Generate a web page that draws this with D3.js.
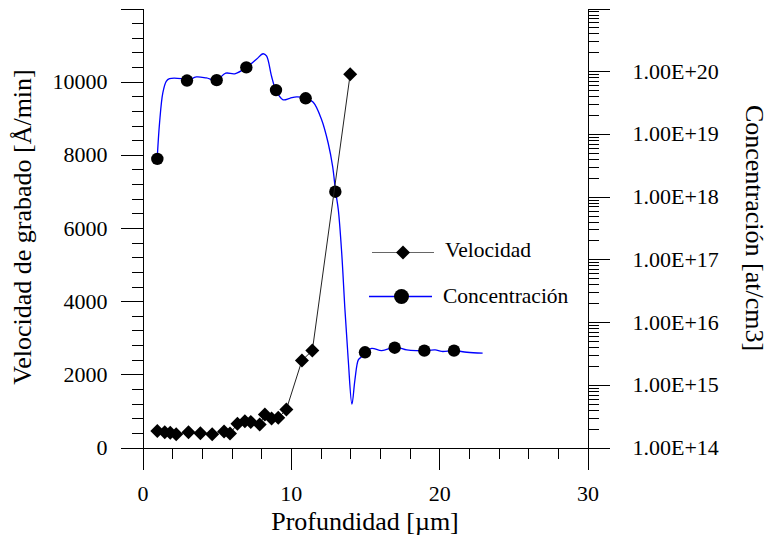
<!DOCTYPE html>
<html>
<head>
<meta charset="utf-8">
<script src="https://cdn.jsdelivr.net/npm/d3@7"></script>
<style>
body { margin: 0; background: #fff; }
text { font-family: "Liberation Serif", "Times New Roman", serif; fill: #000; }
.axis path, .axis line { stroke: #000; stroke-width: 1; shape-rendering: crispEdges; }
.axis text { font-size: 22px; font-family: "Liberation Serif", serif; }
</style>
</head>
<body>
<svg id="chart" width="771" height="539"></svg>
<script>

// velocidad de grabado (diamonds)
var velDepth = [1.0, 1.5, 1.87, 2.27, 3.1, 3.9, 4.7, 5.5, 5.9, 6.4, 6.9, 7.3, 7.9, 8.25, 8.7, 9.15, 9.7, 10.75, 11.45, 14.0];
var velRate  = [450, 420, 400, 360, 420, 390, 360, 440, 380, 650, 720, 700, 630, 900, 790, 810, 1040, 2380, 2650, 10200];

// concentracion, measured points (circles)
var concDepth = [1, 3, 5, 7, 9, 11, 13, 15, 17, 19, 21];
var concValue = [4.0e18, 7.1e19, 7.2e19, 1.15e20, 5.0e19, 3.7e19, 1.2e18, 3.3e15, 3.9e15, 3.5e15, 3.5e15];

// concentracion, profile curve (blue line)
var curveDepth = [0.99, 1.15, 1.37, 1.6, 1.82, 2.61, 3.02, 3.63, 4.3, 4.98, 5.61, 6.22, 7.01, 7.68, 8.13, 8.36,
  8.7, 8.99, 9.48, 9.93, 10.39, 11.01, 11.51, 12.07, 12.52, 12.82, 13.02, 13.2, 13.43, 13.65, 13.87, 14.12,
  14.32, 14.55, 14.73, 15.0, 15.45, 16.13, 17.03, 17.82, 18.49, 19.01, 19.73, 20.18, 21.01, 21.87, 22.93];
var curveValue = [4.0e18, 1.5e19, 4.5e19, 6.9e19, 7.6e19, 7.6e19, 7.1e19, 8.1e19, 7.8e19, 7.2e19, 9.3e19, 9.1e19,
  1.15e20, 1.55e20, 1.9e20, 1.75e20, 8.3e19, 5.0e19, 3.5e19, 3.7e19, 3.9e19, 3.7e19, 3.2e19, 1.7e19, 7.1e18,
  3.0e18, 1.2e18, 6.2e17, 1.26e17, 1.55e16, 2.5e15, 4.9e14, 1.2e15, 2.5e15, 2.75e15, 3.3e15, 3.8e15, 3.5e15,
  4.0e15, 3.6e15, 3.5e15, 3.5e15, 3.6e15, 3.4e15, 3.5e15, 3.3e15, 3.2e15];

var xTicks = [0, 10, 20, 30];
var rateTicks = [0, 2000, 4000, 6000, 8000, 10000, 12000];
var concTicks = [1e14, 1e15, 1e16, 1e17, 1e18, 1e19, 1e20, 1e21];
var legendLabels = ["Velocidad", "Concentración"];

var svg = d3.select("#chart");

var x = d3.scaleLinear().domain([0, 30]).range([142.5, 587.5]);
var yRate = d3.scaleLinear().domain([0, 12000]).range([447.5, 8.5]);
var yConc = d3.scaleLog().domain([1e14, 1e21]).range([447.5, 8.5]);

// minor ticks
var minorX = d3.range(0, 31, 2).filter(function(d) { return d % 10 != 0; });
var minorRate = d3.range(0, 12001, 400).filter(function(d) { return d % 2000 != 0; });
var minorConc = [];
for (var e = 14; e < 21; e++) {
	for (var m = 2; m < 10; m++) minorConc.push(m * Math.pow(10, e));
}

svg.append("g").attr("class", "axis")
	.attr("transform", "translate(0,447.5)")
	.call(d3.axisBottom(x).tickValues(minorX).tickSize(11).tickSizeOuter(0).tickFormat(""));
svg.append("g").attr("class", "axis")
	.attr("transform", "translate(142.5,0)")
	.call(d3.axisLeft(yRate).tickValues(minorRate).tickSize(11).tickSizeOuter(0).tickFormat(""));
svg.append("g").attr("class", "axis")
	.attr("transform", "translate(587.5,0)")
	.call(d3.axisRight(yConc).tickValues(minorConc).tickSize(11).tickSizeOuter(0).tickFormat(""));

// major ticks + labels
svg.append("g").attr("class", "axis")
	.attr("transform", "translate(0,447.5)")
	.call(d3.axisBottom(x).tickValues(xTicks).tickSize(22).tickPadding(16).tickSizeOuter(0).tickFormat(d3.format("d")));
svg.append("g").attr("class", "axis")
	.attr("transform", "translate(142.5,0)")
	.call(d3.axisLeft(yRate).tickValues(rateTicks).tickSize(22).tickPadding(13).tickSizeOuter(0)
		.tickFormat(function(d) { return d > 10000 ? "" : d; }));
svg.append("g").attr("class", "axis")
	.attr("transform", "translate(587.5,0)")
	.call(d3.axisRight(yConc).tickValues(concTicks).tickSize(22).tickPadding(23).tickSizeOuter(0)
		.tickFormat(function(d) {
			var p = Math.round(Math.log10(d));
			return p > 20 ? "" : "1.00E+" + p;
		}));

svg.selectAll(".axis text").attr("fill", "#000");

// axis titles
svg.append("text")
	.attr("transform", "translate(31,227) rotate(-90)")
	.attr("text-anchor", "middle")
	.style("font-size", "26px")
	.text("Velocidad de grabado [Å/min]");
svg.append("text")
	.attr("transform", "translate(746,228) rotate(90)")
	.attr("text-anchor", "middle")
	.style("font-size", "26px")
	.text("Concentración [at/cm3]");
svg.append("text")
	.attr("x", 365).attr("y", 530)
	.attr("text-anchor", "middle")
	.style("font-size", "26px")
	.text("Profundidad [µm]");

// concentration curve
var concLine = d3.line()
	.x(function(d, i) { return x(curveDepth[i]); })
	.y(function(d) { return yConc(d); })
	.curve(d3.curveCatmullRom.alpha(0.5));

svg.append("path")
	.datum(curveValue)
	.attr("d", concLine)
	.attr("fill", "none")
	.attr("stroke", "#0000ff")
	.attr("stroke-width", 1.3);

svg.selectAll(".conc-dot")
	.data(concValue).enter()
	.append("circle")
	.attr("class", "conc-dot")
	.attr("cx", function(d, i) { return x(concDepth[i]); })
	.attr("cy", function(d) { return yConc(d); })
	.attr("r", 6.2)
	.attr("fill", "#000");

// velocity line
var velLine = d3.line()
	.x(function(d, i) { return x(velDepth[i]); })
	.y(function(d) { return yRate(d); });

svg.append("path")
	.datum(velRate)
	.attr("d", velLine)
	.attr("fill", "none")
	.attr("stroke", "#222")
	.attr("stroke-width", 1);

var diamond = d3.symbol().type(d3.symbolSquare).size(98);
svg.selectAll(".vel-dot")
	.data(velRate).enter()
	.append("path")
	.attr("class", "vel-dot")
	.attr("d", diamond)
	.attr("transform", function(d, i) {
		return "translate(" + x(velDepth[i]) + "," + yRate(d) + ") rotate(45)";
	})
	.attr("fill", "#000");

// legend
var legend = svg.append("g").attr("class", "legend");
legend.append("line")
	.attr("x1", 372).attr("x2", 434).attr("y1", 252.5).attr("y2", 252.5)
	.attr("stroke", "#666").attr("stroke-width", 1.2);
legend.append("path")
	.attr("d", diamond)
	.attr("transform", "translate(403,252.5) rotate(45)")
	.attr("fill", "#000");
legend.append("text")
	.attr("x", 445).attr("y", 257)
	.style("font-size", "21.5px")
	.text(legendLabels[0]);

legend.append("line")
	.attr("x1", 369).attr("x2", 432).attr("y1", 296.5).attr("y2", 296.5)
	.attr("stroke", "#0000ff").attr("stroke-width", 1.3);
legend.append("circle")
	.attr("cx", 401.5).attr("cy", 296.5).attr("r", 7.5)
	.attr("fill", "#000");
legend.append("text")
	.attr("x", 443).attr("y", 303)
	.style("font-size", "21.5px")
	.text(legendLabels[1]);

</script>
</body>
</html>
